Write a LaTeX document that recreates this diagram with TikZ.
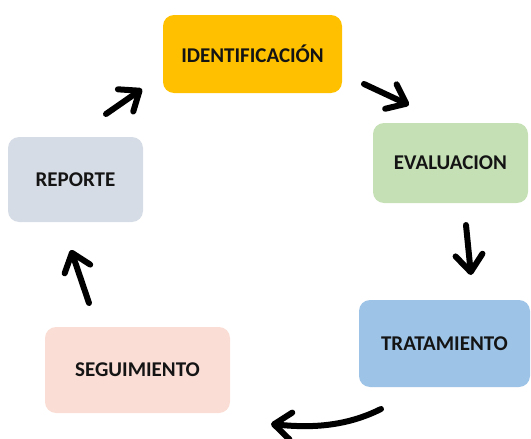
\documentclass[tikz,border=0pt]{standalone}
\usepackage{fontspec}
\setmainfont{Carlito}
\usetikzlibrary{arrows.meta}
\definecolor{amarillo}{HTML}{FFC000}
\definecolor{verde}{HTML}{C5E0B4}
\definecolor{azul}{HTML}{9DC3E6}
\definecolor{rosa}{HTML}{FADDD5}
\definecolor{gris}{HTML}{D6DCE5}
\tikzset{
	etapa/.style={rectangle, rounded corners=11pt, inner sep=0pt, text=black!92,
		font=\bfseries\fontsize{21}{24}\selectfont},
	flecha/.style={line width=6pt, line cap=round,
		-{Straight Barb[length=17pt,width=27pt,round]}}
}

\begin{document}
\begin{tikzpicture}[x=1pt, y=-1pt]
		%%%%% START %%%%%
		\useasboundingbox (0, 0) rectangle (531, 439);
		
		\node[etapa, fill=amarillo, minimum width=179pt, minimum height=78pt] (ident) at (252.5, 54) {IDENTIFICACIÓN};
		\node[etapa, fill=verde, minimum width=155pt, minimum height=80pt] (evalua) at (450.5, 163) {EVALUACION};
		\node[etapa, fill=azul, minimum width=171pt, minimum height=87pt] (trata) at (444.5, 343.5) {TRATAMIENTO};
		\node[etapa, fill=rosa, minimum width=185pt, minimum height=86pt] (segui) at (137.5, 370) {SEGUIMIENTO};
		\node[etapa, fill=gris, minimum width=135pt, minimum height=85pt] (report) at (75.5, 179.5) {REPORTE};
		
		% ends of the arrows
		\coordinate (a1) at (106, 114);
		\coordinate (b1) at (142, 89);
		\coordinate (a2) at (364, 84);
		\coordinate (b2) at (409, 105);
		\coordinate (a3) at (466, 225);
		\coordinate (b3) at (471, 275);
		\coordinate (a4) at (381, 409);
		\coordinate (b4) at (271, 424);
		\coordinate (a5) at (89, 303);
		\coordinate (b5) at (71, 250);
		
		\draw[flecha] (a1) -- (b1);
		\draw[flecha] (a2) -- (b2);
		\draw[flecha] (a3) -- (b3);
		\draw[flecha] (a4) .. controls (345, 427) and (310, 428) .. (b4);
		\draw[flecha] (a5) -- (b5);
		
		%%%%% END %%%%%
	\end{tikzpicture}
\end{document}
